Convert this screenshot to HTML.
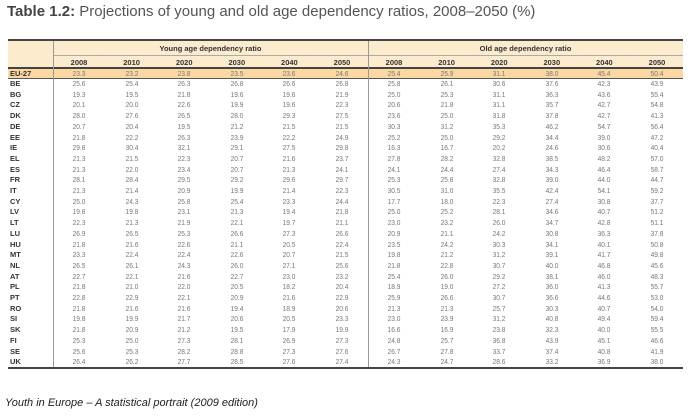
<!DOCTYPE html>
<html><head><meta charset="utf-8"><style>
body{margin:0;width:700px;height:420px;background:#fff;position:relative;overflow:hidden;font-family:"Liberation Sans",sans-serif}
.t{position:absolute;white-space:nowrap}
.c{position:absolute;font-size:7.5px;color:#777;text-align:center;width:50px;transform:scaleX(0.88)}
.lab{position:absolute;left:10px;font-size:7.5px;font-weight:bold;color:#333}
.yr{position:absolute;font-size:7.5px;font-weight:bold;color:#333;text-align:center;width:50px}
.hl{position:absolute;left:8px;width:675px}
</style></head><body>
<div class="t" style="left:7px;top:3px;font-size:15px;color:#555"><b style="color:#444">Table 1.2:</b> Projections of young and old age dependency ratios, 2008–2050 (%)</div>
<div style="position:absolute;left:8px;top:40px;width:675px;height:28px;background:#fdebcd"></div>
<div style="position:absolute;left:8px;top:68px;width:675px;height:10px;background:#fbd8a2"></div>
<div class="hl" style="top:39px;height:2px;background:#444"></div>
<div class="hl" style="top:55px;height:1px;background:#aaa;left:53px;width:630px"></div>
<div class="hl" style="top:67px;height:1.5px;background:#444"></div>
<div class="hl" style="top:78px;height:1px;background:#555"></div>
<div class="hl" style="top:367px;height:2px;background:#444"></div>
<div style="position:absolute;left:53px;top:41px;width:1px;height:326px;background:#999"></div>
<div style="position:absolute;left:368px;top:41px;width:1px;height:326px;background:#999"></div>
<div class="t" style="left:53px;width:315px;text-align:center;top:44px;font-size:7.5px;font-weight:bold;color:#333">Young age dependency ratio</div>
<div class="t" style="left:368px;width:315px;text-align:center;top:44px;font-size:7.5px;font-weight:bold;color:#333">Old age dependency ratio</div>
<div id="tbl"></div>
<div class="t" style="left:5px;top:397px;font-size:11px;font-style:italic;color:#222">Youth in Europe – A statistical portrait (2009 edition)</div>
<script>
const years=["2008","2010","2020","2030","2040","2050"];
const countries=["EU-27","BE","BG","CZ","DK","DE","EE","IE","EL","ES","FR","IT","CY","LV","LT","LU","HU","MT","NL","AT","PL","PT","RO","SI","SK","FI","SE","UK"];
const young=[
[23.3,23.2,23.8,23.5,23.6,24.6],[25.6,25.4,26.3,26.8,26.6,26.8],[19.3,19.5,21.8,19.6,19.6,21.9],[20.1,20.0,22.6,19.9,19.6,22.3],
[28.0,27.6,26.5,28.0,29.3,27.5],[20.7,20.4,19.5,21.2,21.5,21.5],[21.8,22.2,26.3,23.9,22.2,24.9],[29.8,30.4,32.1,29.1,27.5,29.8],
[21.3,21.5,22.3,20.7,21.6,23.7],[21.3,22.0,23.4,20.7,21.3,24.1],[28.1,28.4,29.5,29.2,29.6,29.7],[21.3,21.4,20.9,19.9,21.4,22.3],
[25.0,24.3,25.8,25.4,23.3,24.4],[19.8,19.8,23.1,21.3,19.4,21.8],[22.3,21.3,21.9,22.1,19.7,21.1],[26.9,26.5,25.3,26.6,27.3,26.6],
[21.8,21.6,22.6,21.1,20.5,22.4],[23.3,22.4,22.4,22.6,20.7,21.5],[26.5,26.1,24.3,26.0,27.1,25.6],[22.7,22.1,21.6,22.7,23.0,23.2],
[21.8,21.0,22.0,20.5,18.2,20.4],[22.8,22.9,22.1,20.9,21.6,22.9],[21.8,21.6,21.6,19.4,18.9,20.6],[19.8,19.9,21.7,20.6,20.5,23.3],
[21.8,20.9,21.2,19.5,17.9,19.9],[25.3,25.0,27.3,28.1,26.9,27.3],[25.6,25.3,28.2,28.8,27.3,27.6],[26.4,26.2,27.7,28.5,27.6,27.4]];
const old=[
[25.4,25.9,31.1,38.0,45.4,50.4],[25.8,26.1,30.6,37.6,42.3,43.9],[25.0,25.3,31.1,36.3,43.6,55.4],[20.6,21.8,31.1,35.7,42.7,54.8],
[23.6,25.0,31.8,37.8,42.7,41.3],[30.3,31.2,35.3,46.2,54.7,56.4],[25.2,25.0,29.2,34.4,39.0,47.2],[16.3,16.7,20.2,24.6,30.6,40.4],
[27.8,28.2,32.8,38.5,48.2,57.0],[24.1,24.4,27.4,34.3,46.4,58.7],[25.3,25.8,32.8,39.0,44.0,44.7],[30.5,31.0,35.5,42.4,54.1,59.2],
[17.7,18.0,22.3,27.4,30.8,37.7],[25.0,25.2,28.1,34.6,40.7,51.2],[23.0,23.2,26.0,34.7,42.8,51.1],[20.9,21.1,24.2,30.8,36.3,37.8],
[23.5,24.2,30.3,34.1,40.1,50.8],[19.8,21.2,31.2,39.1,41.7,49.8],[21.8,22.8,30.7,40.0,46.8,45.6],[25.4,26.0,29.2,38.1,46.0,48.3],
[18.9,19.0,27.2,36.0,41.3,55.7],[25.9,26.6,30.7,36.6,44.6,53.0],[21.3,21.3,25.7,30.3,40.7,54.0],[23.0,23.9,31.2,40.8,49.4,59.4],
[16.6,16.9,23.8,32.3,40.0,55.5],[24.8,25.7,36.8,43.9,45.1,46.6],[26.7,27.8,33.7,37.4,40.8,41.9],[24.3,24.7,28.6,33.2,36.9,38.0]];
const tbl=document.getElementById('tbl');
function colX(g,i){return (g===0?79:394)+i*52.6;}
function rowY(r){return r===0?69:79+(r-1)*10.7;}
years.forEach((y,i)=>{[0,1].forEach(g=>{
 const d=document.createElement('div');d.className='yr';d.textContent=y;
 
 
 d.style.left=(colX(g,i)-25)+'px';d.style.top='58px';tbl.appendChild(d);});});
countries.forEach((c,r)=>{
 const l=document.createElement('div');l.className='lab';l.textContent=c;
 
 
 l.style.top=rowY(r)+'px';tbl.appendChild(l);
 [young,old].forEach((arr,g)=>{arr[r].forEach((v,i)=>{
  const d=document.createElement('div');d.className='c';d.textContent=v.toFixed(1);
  
  
  d.style.left=(colX(g,i)-25)+'px';d.style.top=rowY(r)+'px';tbl.appendChild(d);});});
});
</script>
</body></html>
